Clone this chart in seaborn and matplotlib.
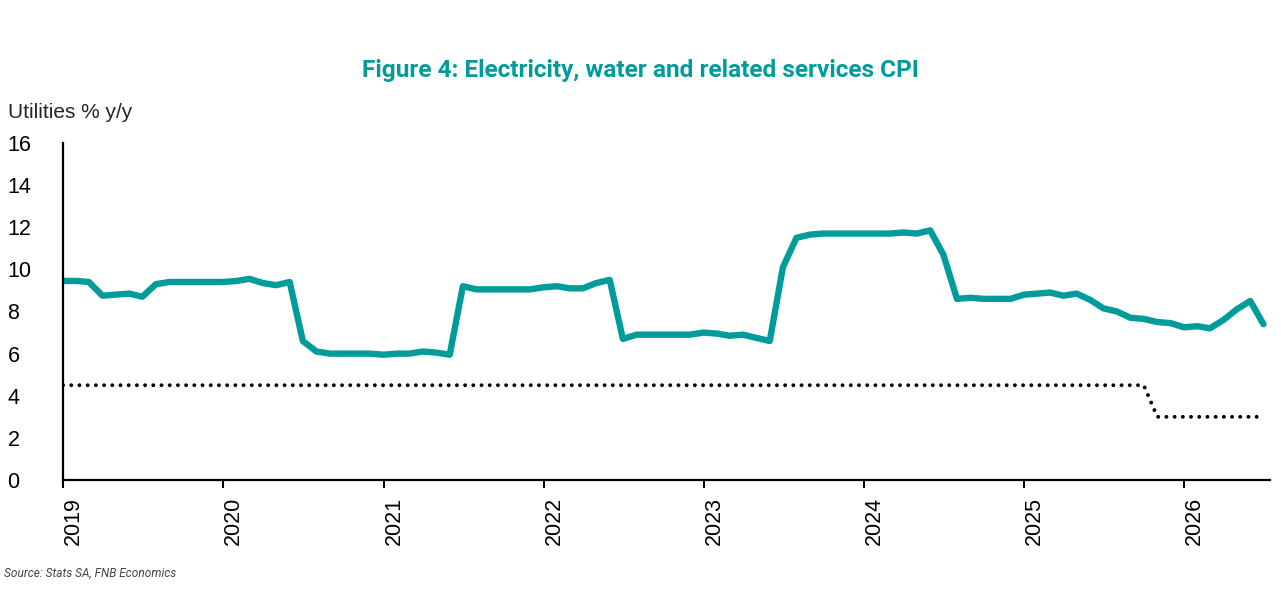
import matplotlib
matplotlib.use("Agg")
import matplotlib.pyplot as plt
import seaborn as sns
import pandas as pd

# Утилиты CPI, % г/г, помесячно с янв 2019 по июл 2026
dates = pd.date_range("2019-01-01", periods=91, freq="MS")
cpi = [9.45, 9.45, 9.4, 8.75, 8.8, 8.85, 8.7, 9.3, 9.4, 9.4, 9.4, 9.4,
       9.4, 9.45, 9.55, 9.35, 9.25, 9.4, 6.6, 6.1, 6.0, 6.0, 6.0, 6.0,
       5.95, 6.0, 6.0, 6.1, 6.05, 5.95, 9.2, 9.05, 9.05, 9.05, 9.05, 9.05,
       9.15, 9.2, 9.1, 9.1, 9.35, 9.5, 6.7, 6.9, 6.9, 6.9, 6.9, 6.9,
       7.0, 6.95, 6.85, 6.9, 6.75, 6.6, 10.1, 11.5, 11.65, 11.7, 11.7, 11.7,
       11.7, 11.7, 11.7, 11.75, 11.7, 11.85, 10.7, 8.6, 8.65, 8.6, 8.6, 8.6,
       8.8, 8.85, 8.9, 8.75, 8.85, 8.55, 8.15, 8.0, 7.7, 7.65, 7.5, 7.45,
       7.25, 7.3, 7.2, 7.6, 8.1, 8.5, 7.4]
target = [4.5] * 82 + [3.0] * 9
years = list(range(2019, 2027))

df = pd.DataFrame({"date": dates, "cpi": cpi, "target": target})

sns.set_style("white")
plt.rcParams["font.family"] = ["Liberation Sans", "DejaVu Sans"]

teal = "#009C9C"
fig = plt.figure(figsize=(12.81, 5.96), dpi=100)
ax = fig.add_axes([0.0492, 0.1946, 0.9422, 0.5655])

sns.lineplot(data=df, x="date", y="target", ax=ax, color="black", lw=2.8,
             linestyle=(0, (0.01, 2.1)), dash_capstyle="round")
sns.lineplot(data=df, x="date", y="cpi", ax=ax, color=teal, lw=4.6,
             solid_capstyle="round", solid_joinstyle="round")

ax.set_ylim(0, 16)
ax.set_yticks(range(0, 17, 2))
ax.set_xlim(pd.Timestamp("2019-01-01"), pd.Timestamp("2026-07-16"))
ax.set_xticks([pd.Timestamp(f"{y}-01-01") for y in years])
ax.set_xticklabels([str(y) for y in years], rotation=90, ha="left", va="top")
ax.set_xlabel("")
ax.set_ylabel("")

for lab in ax.get_yticklabels():
    lab.set_horizontalalignment("left")
ax.tick_params(axis="y", length=0, pad=40, labelsize=15.5, colors="black")
ax.tick_params(axis="x", length=6, width=1.5, direction="out", pad=6,
               labelsize=15.5, colors="black", bottom=True)

sns.despine(ax=ax)
for s in ["left", "bottom"]:
    ax.spines[s].set_color("black")
    ax.spines[s].set_linewidth(1.6)

fig.text(0.5, 0.882, "Figure 4: Electricity, water and related services CPI",
         ha="center", va="center", color=teal, fontsize=17.6, fontweight="bold",
         family="Roboto")
fig.text(0.006, 0.812, "Utilities % y/y", ha="left", va="center", fontsize=15)
fig.text(0.003, 0.038, "Source: Stats SA, FNB Economics", ha="left", va="center",
         fontsize=8.6, style="italic", color="#444444", family="Roboto")

plt.savefig("out.png", dpi=100)
